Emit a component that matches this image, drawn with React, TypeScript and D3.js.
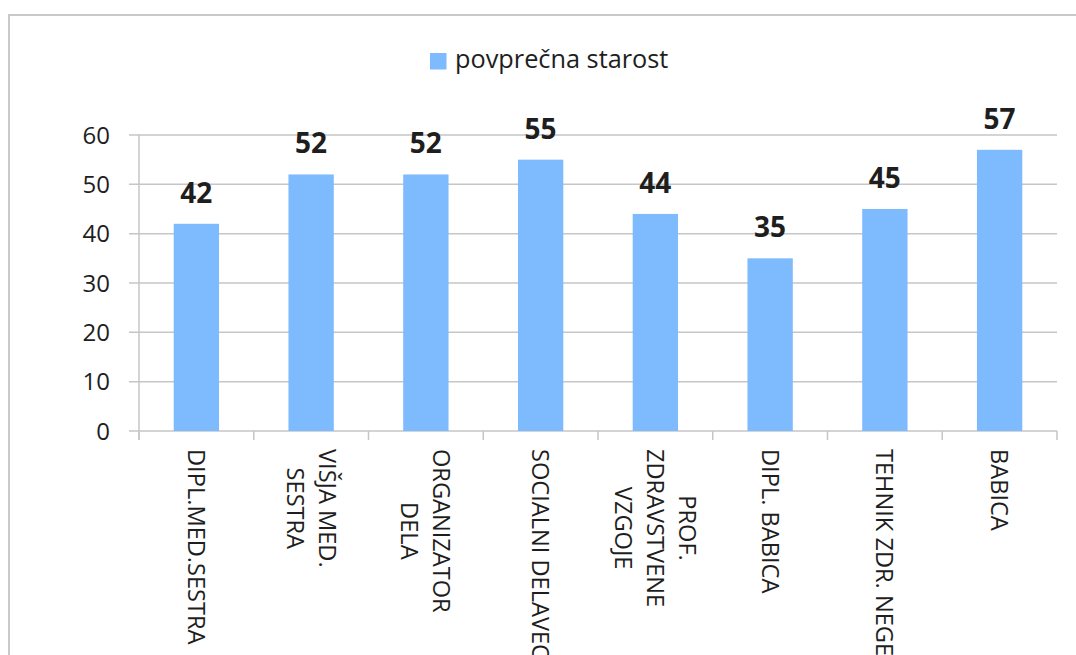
import React, { useEffect, useRef } from "react";
import * as d3 from "d3";

const categories: string[][] = [
  ["DIPL.MED.SESTRA"],
  ["VIŠJA MED.", "SESTRA"],
  ["ORGANIZATOR", "DELA"],
  ["SOCIALNI DELAVEC"],
  ["PROF.", "ZDRAVSTVENE", "VZGOJE"],
  ["DIPL. BABICA"],
  ["TEHNIK ZDR. NEGE"],
  ["BABICA"],
];
const values: number[] = [42, 52, 52, 55, 44, 35, 45, 57];
const yTicks: number[] = [0, 10, 20, 30, 40, 50, 60];
const seriesName = "povprečna starost";

const W = 1076;
const H = 655;
const FONT = "'Open Sans', sans-serif";
const BAR = "#7EBBFE";
const GRID = "#C6C6C6";
const TEXT = "#1E1E1E";

export default function App() {
  const ref = useRef<SVGSVGElement>(null);

  useEffect(() => {
    const svg = d3.select(ref.current);
    svg.selectAll("*").remove();

    const keys = categories.map((c) => c.join(" "));
    const x = d3
      .scaleBand<string>()
      .domain(keys)
      .range([139, 1057])
      .paddingInner(0.605)
      .paddingOuter(0.3025);
    const y = d3.scaleLinear().domain([0, 60]).range([431, 135]);
    const x0 = x.range()[0];
    const step = x.step();

    // outer frame
    svg
      .append("rect")
      .attr("x", 9)
      .attr("y", 15)
      .attr("width", 1100)
      .attr("height", 700)
      .attr("fill", "white")
      .attr("stroke", "#C9C9C9")
      .attr("stroke-width", 2);

    // gridlines
    svg
      .append("g")
      .selectAll("line")
      .data(yTicks)
      .join("line")
      .attr("x1", 129)
      .attr("x2", 1057)
      .attr("y1", (d) => y(d))
      .attr("y2", (d) => y(d))
      .attr("stroke", GRID)
      .attr("stroke-width", 1.5);

    // y axis line
    svg
      .append("line")
      .attr("x1", 139)
      .attr("x2", 139)
      .attr("y1", y(60))
      .attr("y2", 440)
      .attr("stroke", GRID)
      .attr("stroke-width", 1.5);

    // x ticks
    svg
      .append("g")
      .selectAll("line")
      .data(d3.range(categories.length + 1))
      .join("line")
      .attr("x1", (i) => x0 + i * step)
      .attr("x2", (i) => x0 + i * step)
      .attr("y1", y(0))
      .attr("y2", 440)
      .attr("stroke", GRID)
      .attr("stroke-width", 1.5);

    // y tick labels
    svg
      .append("g")
      .selectAll("text")
      .data(yTicks)
      .join("text")
      .attr("x", 110)
      .attr("y", (d) => y(d))
      .attr("dy", "0.36em")
      .attr("text-anchor", "end")
      .attr("font-family", FONT)
      .attr("font-size", 24)
      .attr("fill", TEXT)
      .text((d) => String(d));

    // bars
    svg
      .append("g")
      .selectAll("rect")
      .data(values)
      .join("rect")
      .attr("x", (_, i) => x(keys[i])!)
      .attr("y", (d) => y(d))
      .attr("width", x.bandwidth())
      .attr("height", (d) => y(0) - y(d))
      .attr("fill", BAR);

    // data labels
    svg
      .append("g")
      .selectAll("text")
      .data(values)
      .join("text")
      .attr("x", (_, i) => x(keys[i])! + x.bandwidth() / 2)
      .attr("y", (d) => y(d) - 21)
      .attr("text-anchor", "middle")
      .attr("font-family", FONT)
      .attr("font-weight", "bold")
      .attr("font-size", 28)
      .attr("fill", TEXT)
      .text((d) => String(d));

    // category labels (rotated 90deg)
    const lh = 32;
    categories.forEach((lines, i) => {
      const cx = x(keys[i])! + x.bandwidth() / 2;
      const g = svg
        .append("g")
        .attr("transform", `translate(${cx},449) rotate(90)`);
      const texts = lines.map((ln, j) =>
        g
          .append("text")
          .attr("x", 0)
          .attr("y", (j - (lines.length - 1) / 2) * lh)
          .attr("dy", "0.36em")
          .attr("text-anchor", "middle")
          .attr("font-family", FONT)
          .attr("font-size", 23.6)
          .attr("fill", TEXT)
          .text(ln)
      );
      const maxW = d3.max(texts, (t) => (t.node() as SVGTextElement).getComputedTextLength()) || 0;
      texts.forEach((t) => t.attr("x", maxW / 2));
    });

    // legend
    svg
      .append("rect")
      .attr("x", 430)
      .attr("y", 53)
      .attr("width", 16.5)
      .attr("height", 16.5)
      .attr("fill", BAR);
    svg
      .append("text")
      .attr("x", 455)
      .attr("y", 68)
      .attr("font-family", FONT)
      .attr("font-size", 25.3)
      .attr("fill", TEXT)
      .text(seriesName);
  }, []);

  return (
    <svg
      ref={ref}
      width={W}
      height={H}
      style={{ position: "absolute", left: 0, top: 0, display: "block", background: "white" }}
    />
  );
}
